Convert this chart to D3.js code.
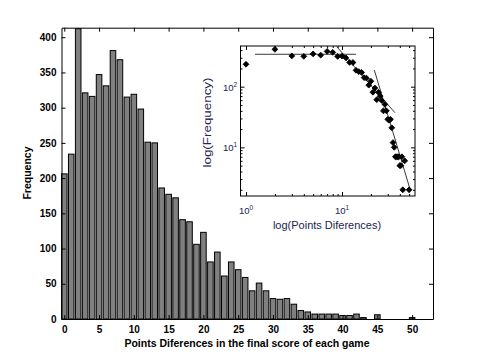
<!DOCTYPE html>
<html>
<head>
<meta charset="utf-8">
<script src="https://cdn.jsdelivr.net/npm/d3@7"></script>
<style>
  body { margin: 0; background: #fff; }
  svg { display: block; }
  text { font-family: "Liberation Sans", Arial, sans-serif; }
</style>
</head>
<body>
<script>
// points difference (x) and how many games ended with it
const diffs = [0, 1, 2, 3, 4, 5, 6, 7, 8, 9, 10, 11, 12, 13, 14, 15, 16, 17, 18, 19,
  20, 21, 22, 23, 24, 25, 26, 27, 28, 29, 30, 31, 32, 33, 34, 35, 36, 37, 38, 39,
  40, 41, 42, 43, 44, 45, 46, 47, 48, 49, 50];
const counts = [206, 234, 412, 321, 316, 347, 331, 381, 368, 315, 319, 298, 251, 250, 186, 177, 172, 141, 138, 106,
  123, 81, 95, 61, 81, 70, 59, 40, 51, 40, 29, 28, 29, 21, 12, 10, 7, 7, 7, 7,
  5, 5, 7, 2, 0, 6, 0, 0, 0, 0, 2];

const xTicks = [0, 5, 10, 15, 20, 25, 30, 35, 40, 45, 50];
const yTicks = [0, 50, 100, 150, 200, 250, 300, 350, 400];

// fitted segments on the log-log inset (data units)
const fitX = [[1.24, 14], [8.8, 35.6], [21.7, 51]];
const fitY = [[342, 342], [457, 37.3], [188, 2.07]];

const insetXMajor = [1, 10];
const insetYMajor = [10, 100];
const insetXMinor = [2, 3, 4, 5, 6, 7, 8, 9, 20, 30, 40, 50];
const insetYMinor = [2, 3, 4, 5, 6, 7, 8, 9, 20, 30, 40, 50, 60, 70, 80, 90, 200, 300, 400];

const W = 480, H = 360;
const svg = d3.select("body").append("svg").attr("width", W).attr("height", H);
svg.append("rect").attr("width", W).attr("height", H).attr("fill", "#fff");

// main histogram
const x = d3.scaleLinear().domain([-0.4, 53]).range([61.5, 433]);
const y = d3.scaleLinear().domain([0, 413.5]).range([319, 27.7]);
const bw = x(0.8) - x(0);

svg.append("g")
  .selectAll("rect")
  .data(diffs.map((d, i) => ({ d, c: counts[i] })))
  .join("rect")
  .attr("x", p => x(p.d) - bw / 2)
  .attr("y", p => y(p.c))
  .attr("width", bw)
  .attr("height", p => y(0) - y(p.c))
  .attr("fill", "#808080")
  .attr("stroke", "#000")
  .attr("stroke-width", 1);

const styleAxis = (g, size) => {
  g.selectAll(".domain").attr("stroke", "#000");
  g.selectAll(".tick line").attr("stroke", "#000");
  g.selectAll("text").attr("font-size", size).attr("font-weight", "bold").attr("fill", "#000")
    .attr("font-family", "'Liberation Sans', Arial, sans-serif");
};

svg.append("g").attr("transform", `translate(0,${y(0)})`)
  .call(d3.axisBottom(x).tickValues(xTicks).tickSizeInner(-4).tickSizeOuter(0).tickPadding(7))
  .call(g => styleAxis(g, 10));
svg.append("g").attr("transform", `translate(0,${y.range()[1]})`)
  .call(d3.axisTop(x).tickValues(xTicks).tickSizeInner(-4).tickSizeOuter(0).tickFormat(""))
  .call(g => styleAxis(g, 10));
svg.append("g").attr("transform", `translate(${x.range()[0]},0)`)
  .call(d3.axisLeft(y).tickValues(yTicks).tickSizeInner(-4).tickSizeOuter(0).tickPadding(5))
  .call(g => styleAxis(g, 10));
svg.append("g").attr("transform", `translate(${x.range()[1]},0)`)
  .call(d3.axisRight(y).tickValues(yTicks).tickSizeInner(-4).tickSizeOuter(0).tickFormat(""))
  .call(g => styleAxis(g, 10));

svg.append("text")
  .attr("x", 247).attr("y", 347)
  .attr("text-anchor", "middle")
  .attr("font-size", 10.5).attr("font-weight", "bold")
  .text("Points Diferences in the final score of each game");

svg.append("text")
  .attr("transform", "translate(31,173) rotate(-90)")
  .attr("text-anchor", "middle")
  .attr("font-size", 10.5).attr("font-weight", "bold")
  .text("Frequency");

// inset: log-log view of the same counts
const lx = d3.scaleLog().domain([0.876, 57.6]).range([240.5, 415]);
const ly = d3.scaleLog().domain([1.58, 468]).range([196, 46]);
const inset = svg.append("g");
inset.append("rect")
  .attr("x", lx.range()[0]).attr("y", ly.range()[1])
  .attr("width", lx.range()[1] - lx.range()[0])
  .attr("height", ly.range()[0] - ly.range()[1])
  .attr("fill", "#fff").attr("stroke", "#000");

svg.append("clipPath").attr("id", "insetClip")
  .append("rect")
  .attr("x", lx.range()[0]).attr("y", ly.range()[1])
  .attr("width", lx.range()[1] - lx.range()[0])
  .attr("height", ly.range()[0] - ly.range()[1]);

const tickAxes = (major, minor, axisFn, scale, pos) => {
  [[major, -4], [minor, -2]].forEach(([vals, len]) => {
    inset.append("g").attr("transform", pos)
      .call(axisFn(scale).tickValues(vals).tickSizeInner(len).tickSizeOuter(0).tickFormat(""))
      .call(g => {
        g.selectAll(".domain").remove();
        g.selectAll(".tick line").attr("stroke", "#000");
      });
  });
};
tickAxes(insetXMajor, insetXMinor, d3.axisBottom, lx, `translate(0,${ly.range()[0]})`);
tickAxes(insetXMajor, insetXMinor, d3.axisTop, lx, `translate(0,${ly.range()[1]})`);
tickAxes(insetYMajor, insetYMinor, d3.axisLeft, ly, `translate(${lx.range()[0]},0)`);
tickAxes(insetYMajor, insetYMinor, d3.axisRight, ly, `translate(${lx.range()[1]},0)`);

const labelColor = "#23234f";
const powLabel = (g, v) => {
  const t = g.append("text").attr("fill", labelColor).attr("font-size", 9.5);
  t.append("tspan").text("10");
  t.append("tspan").attr("font-size", 6.5).attr("dy", -4).text(Math.round(Math.log10(v)));
  return t;
};
insetXMajor.forEach(v => {
  powLabel(inset, v).attr("x", lx(v) - 7).attr("y", 213.5);
});
insetYMajor.forEach(v => {
  powLabel(inset, v).attr("x", 223).attr("y", ly(v) + 4);
});

inset.append("text")
  .attr("x", 327).attr("y", 228.5)
  .attr("text-anchor", "middle")
  .attr("fill", labelColor).attr("font-size", 11)
  .text("log(Points Diferences)");

inset.append("text")
  .attr("transform", "translate(211,122.5) rotate(-90)")
  .attr("text-anchor", "middle")
  .attr("fill", labelColor).attr("font-size", 10.5)
  .attr("textLength", 90).attr("lengthAdjust", "spacingAndGlyphs")
  .text("log(Frequency)");

const fits = inset.append("g").attr("clip-path", "url(#insetClip)");
const line = d3.line().x(p => lx(p[0])).y(p => ly(p[1]));
fitX.forEach((xs, i) => {
  fits.append("path")
    .attr("d", line([[xs[0], fitY[i][0]], [xs[1], fitY[i][1]]]))
    .attr("fill", "none").attr("stroke", "#3a3a3a").attr("stroke-width", 1);
});

const pts = diffs.map((d, i) => ({ d, c: counts[i] })).filter(p => p.d > 0 && p.c > 0);
inset.append("g").selectAll("path")
  .data(pts)
  .join("path")
  .attr("transform", p => `translate(${lx(p.d)},${ly(p.c)}) rotate(45)`)
  .attr("d", d3.symbol(d3.symbolSquare, 17))
  .attr("fill", "#000")
  .attr("stroke", "#000")
  .attr("stroke-width", 0.8)
  .attr("stroke-linejoin", "round");
</script>
</body>
</html>
